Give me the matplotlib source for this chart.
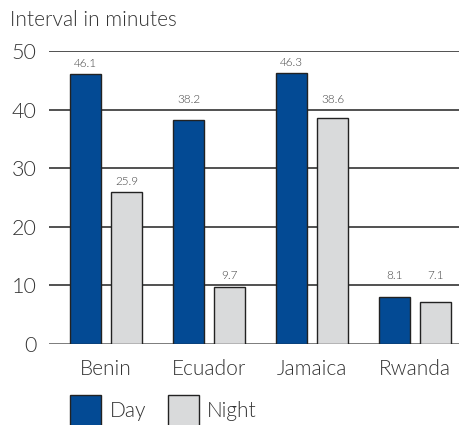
import matplotlib
matplotlib.use("Agg")
import matplotlib.pyplot as plt
from matplotlib.patches import Rectangle
import numpy as np

categories = ["Benin", "Ecuador", "Jamaica", "Rwanda"]
day = [46.1, 38.2, 46.3, 8.1]
night = [25.9, 9.7, 38.6, 7.1]
yticks = [0, 10, 20, 30, 40, 50]
series_names = ["Day", "Night"]

DAY_C = "#034A94"
NIGHT_C = "#D9DADB"
TXT = "#333333"
FW = 300

plt.rcParams['font.family'] = ['Lato', 'DejaVu Sans']

fig = plt.figure(figsize=(4.6, 4.25), dpi=100)
ax = fig.add_axes([49/460, 1-344/425, (460-49)/460, (344-51)/425])

x = np.arange(len(categories))
w = 31/103
off = 20.5/103
b1 = ax.bar(x - off, day, w, color=DAY_C, edgecolor="#222222", linewidth=1.0, zorder=3)
b2 = ax.bar(x + off, night, w, color=NIGHT_C, edgecolor="#222222", linewidth=1.0, zorder=3)

for bars, vals in ((b1, day), (b2, night)):
    for r, v in zip(bars, vals):
        g = np.ceil(v / 10) * 10
        base = g if (g - v) < 3 else v
        ax.annotate(f"{v}", (r.get_x() + r.get_width()/2, base), xytext=(0, 3.5),
                    textcoords="offset points", ha="center", va="bottom",
                    fontsize=8.5, color="#444444", fontweight=FW)

ax.set_xlim(-0.553, 3.437)
ax.set_ylim(0, 50)
ax.set_yticks(yticks)
ax.set_yticklabels([str(t) for t in yticks], fontsize=15.5, color=TXT, fontweight=FW)
ax.set_xticks(x)
ax.set_xticklabels(categories, fontsize=15, color=TXT, fontweight=FW)
ax.tick_params(axis='both', length=0)
ax.tick_params(axis='y', pad=9)
ax.tick_params(axis='x', pad=11)
for s in ax.spines.values():
    s.set_visible(False)
for t in yticks:
    ax.axhline(t, color="#222222" if t else "#555555", linewidth=1.1 if t else 1.8, zorder=1)

fig.text(10/460, 1-20/425, "Interval in minutes", fontsize=15, color=TXT, ha="left", va="center",
         fontweight=FW)

# legend
leg = [(70, DAY_C, 110, series_names[0]), (168, NIGHT_C, 207, series_names[1])]
for px, c, tx, name in leg:
    fig.add_artist(Rectangle((px/460, 0 - 5/425), 31/460, 35/425, transform=fig.transFigure,
                             facecolor=c, edgecolor="#222222", linewidth=1.0))
    fig.text(tx/460, 1-411/425, name, fontsize=15, color=TXT, ha="left", va="center",
             fontweight=FW)

fig.savefig("out.png", dpi=100)
